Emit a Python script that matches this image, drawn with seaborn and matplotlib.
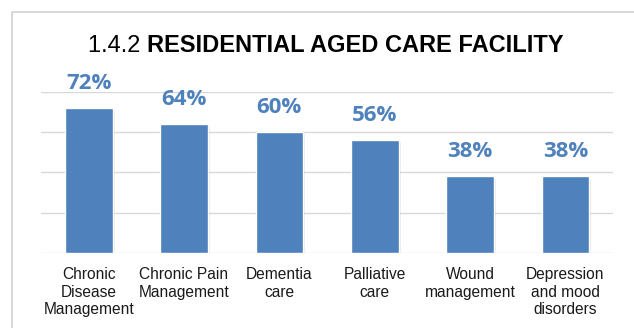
import matplotlib
matplotlib.use("Agg")
import matplotlib.pyplot as plt
import matplotlib.patheffects as pe
from matplotlib.lines import Line2D
import seaborn as sns
import pandas as pd

# Services offered in residential aged care facilities (% of respondents)
categories = [
    "Chronic\nDisease\nManagement",
    "Chronic Pain\nManagement",
    "Dementia\ncare",
    "Palliative\ncare",
    "Wound\nmanagement",
    "Depression\nand mood\ndisorders",
]
values = [72, 64, 60, 56, 38, 38]
value_labels = ["72%", "64%", "60%", "56%", "38%", "38%"]
title_prefix = "1.4.2 "
title_main = "RESIDENTIAL AGED CARE FACILITY"

BAR_BLUE = "#4F81BD"
GRID_GRAY = "#D9D9D9"

sns.set_theme(style="white")
plt.rcParams["font.family"] = ["Liberation Sans", "DejaVu Sans"]

DPI = 100
fig = plt.figure(figsize=(6.34, 3.28), dpi=DPI)
fig.patch.set_facecolor("white")
W, H = 634, 328

ax = fig.add_axes([41 / W, 1 - 252.7 / H, (613 - 41) / W, (252.7 - 92.2) / H])

df = pd.DataFrame({"category": categories, "value": values})
sns.barplot(data=df, x="category", y="value", color=BAR_BLUE, width=0.5,
            saturation=1, ax=ax, zorder=3)

# soft drop shadow behind each bar
for bar in ax.patches:
    bar.set_path_effects([
        pe.SimplePatchShadow(offset=(1.5, -1.5), shadow_rgbFace="#000000", alpha=0.08),
        pe.Normal(),
    ])

ax.set_ylim(0, 80)
ax.set_yticks([0, 20, 40, 60, 80])
ax.yaxis.grid(True, color=GRID_GRAY, linewidth=1.0)
ax.set_axisbelow(True)
for side in ["top", "right", "left", "bottom"]:
    ax.spines[side].set_visible(False)
ax.tick_params(axis="y", left=False, labelleft=False)
ax.tick_params(axis="x", bottom=False, pad=4.5)
ax.set_xlabel("")
ax.set_ylabel("")
for lbl in ax.get_xticklabels():
    lbl.set_fontsize(11.2)
    lbl.set_color("#1A1A1A")
    lbl.set_linespacing(1.2)
    lbl.set_multialignment("center")

# value labels above bars
for i, (v, txt) in enumerate(zip(values, value_labels)):
    ax.annotate(txt, xy=(i, v), xytext=(0, 13.7), textcoords="offset points",
                ha="center", va="baseline", fontsize=16, fontweight="bold",
                color=BAR_BLUE, family=["Open Sans", "DejaVu Sans"])

# chart border (left and top edges)
fig.add_artist(Line2D([11.5 / W, 11.5 / W, 1.0], [0.0, 1 - 11.5 / H, 1 - 11.5 / H],
                      transform=fig.transFigure, color=GRID_GRAY, linewidth=1.5))

# title: regular prefix followed by bold heading, centred as a whole
renderer = fig.canvas.get_renderer()
ty = 1 - 52.3 / H
t1 = fig.text(0, ty, title_prefix, fontsize=17, va="baseline", ha="left", color="black")
t2 = fig.text(0, ty, title_main, fontsize=17, fontweight="bold", va="baseline",
              ha="left", color="black")
w1 = t1.get_window_extent(renderer).width / W
w2 = t2.get_window_extent(renderer).width / W
x0 = 326 / W - (w1 + w2) / 2
t1.set_x(x0)
t2.set_x(x0 + w1)

fig.savefig("out.png", dpi=DPI, facecolor="white")
